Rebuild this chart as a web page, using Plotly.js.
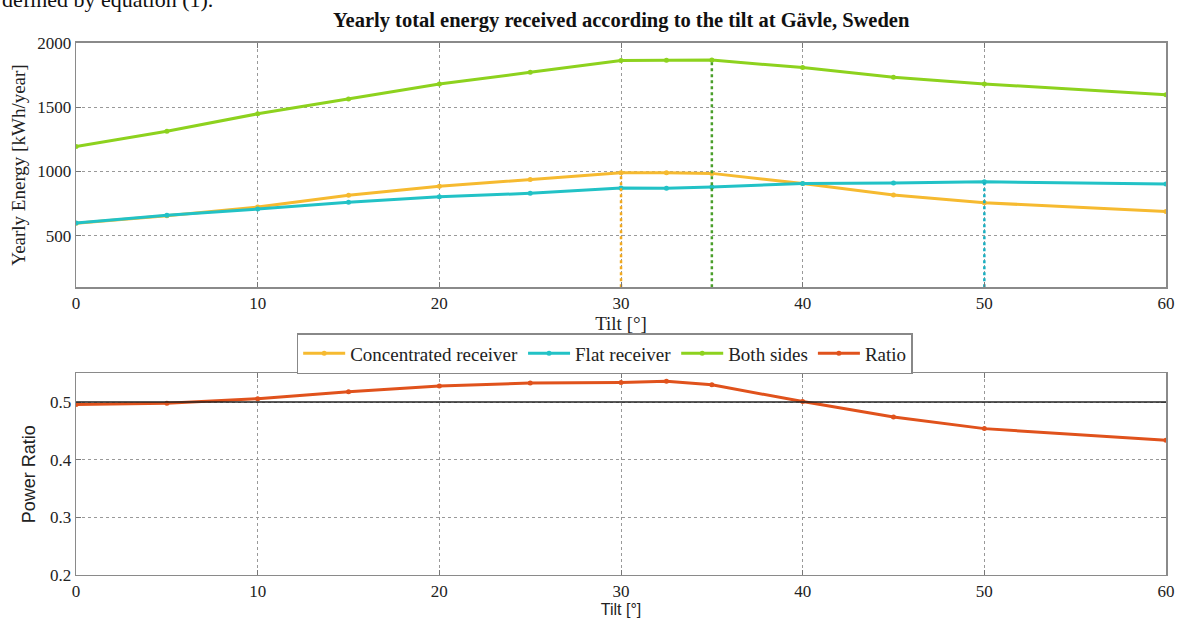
<!DOCTYPE html>
<html>
<head>
<meta charset="utf-8">
<script src="https://cdn.plot.ly/plotly-3.0.1.min.js"></script>
<style>html,body{margin:0;padding:0;background:#fff;}#chart{width:1181px;height:620px;}</style>
</head>
<body>
<div id="chart"></div>
<script>
// ---- data ----
const tilt = [0, 5, 10, 15, 20, 25, 30, 32.5, 35, 40, 45, 50, 60];
const concentrated = [597, 655, 724, 815, 885, 938, 990, 989, 985, 906, 817, 757, 688];
const flat = [600, 660, 708, 760, 803, 830, 872, 870, 880, 906, 910, 920, 902];
const bothSides = [1194, 1312, 1448, 1563, 1680, 1770, 1862, 1863, 1865, 1807, 1732, 1680, 1596];
const ratio = [0.496, 0.498, 0.506, 0.518, 0.528, 0.533, 0.534, 0.536, 0.530, 0.501, 0.474, 0.454, 0.434];
const seriesNames = ["Concentrated receiver", "Flat receiver", "Both sides", "Ratio"];
const titleText = "Yearly total energy received according to the tilt at Gävle, Sweden";
const topYTitle = "Yearly Energy [kWh/year]";
const bottomYTitle = "Power Ratio";
const xTitle = "Tilt [°]";
const pageText = "defined by equation (1).";
const energyTicks = [500, 1000, 1500, 2000];
const ratioTicks = [0.2, 0.3, 0.4, 0.5];
const tiltTicks = [0, 10, 20, 30, 40, 50, 60];
const ratioRef = 0.5;

// ---- styles ----
const colors = ["#F6BA30", "#22C2C6", "#8DD21E", "#E0521C"];
const dotColors = ["#F2A91E", "#19AFC0", "#4A9F2A"];
const serif = "Liberation Serif, Times New Roman, serif";
const sans = "Liberation Sans, Arial, sans-serif";
const yMinTop = 100;

function argmax(a){let k=0;for(let i=1;i<a.length;i++) if(a[i]>a[k]) k=i;return k;}

const energySeries = [concentrated, flat, bothSides];
const traces = [];
energySeries.forEach((s, i) => {
  traces.push({
    x: tilt, y: s, type: "scatter", mode: "lines+markers", name: seriesNames[i],
    line: {color: colors[i], width: 3}, marker: {color: colors[i], size: 5, symbol: "circle"},
    xaxis: "x", yaxis: "y", legendrank: i + 1
  });
});
traces.push({
  x: tilt, y: ratio, type: "scatter", mode: "lines+markers", name: seriesNames[3],
  line: {color: colors[3], width: 3}, marker: {color: colors[3], size: 5, symbol: "circle"},
  xaxis: "x2", yaxis: "y2", legendrank: 4
});
// vertical dotted lines at the maxima
energySeries.forEach((s, i) => {
  const k = argmax(s);
  traces.push({
    x: [tilt[k], tilt[k]], y: [yMinTop, s[k]], type: "scatter", mode: "lines",
    line: {color: dotColors[i], width: 2.5, dash: "dot"}, showlegend: false, hoverinfo: "skip",
    xaxis: "x", yaxis: "y"
  });
});

const axisCommon = {
  showline: true, mirror: "ticks", linecolor: "#8a8a8a", linewidth: 1.5,
  ticks: "inside", ticklen: 5, tickcolor: "#777",
  showgrid: true, gridcolor: "#999", griddash: "dot", gridwidth: 1,
  zeroline: false, tickfont: {family: serif, size: 17, color: "#222"}
};

const layout = {
  width: 1181, height: 620,
  margin: {l: 0, r: 0, t: 0, b: 0},
  paper_bgcolor: "#fff", plot_bgcolor: "#fff",
  showlegend: true,
  title: {text: "<b>" + titleText + "</b>", font: {family: serif, size: 20.5, color: "#111"},
          x: 0.526, xanchor: "center", y: 0.968, yanchor: "middle"},
  xaxis: Object.assign({}, axisCommon, {domain: [0.0644, 0.9873], range: [0, 60], tickvals: tiltTicks,
          anchor: "y", title: {text: xTitle, font: {family: serif, size: 19, color: "#222"}, standoff: 0}}),
  yaxis: Object.assign({}, axisCommon, {domain: [0.5366, 0.9311], range: [yMinTop, 2000], tickvals: energyTicks,
          anchor: "x", title: {text: topYTitle, font: {family: serif, size: 19, color: "#222"}, standoff: 6}}),
  xaxis2: Object.assign({}, axisCommon, {domain: [0.0644, 0.9873], range: [0, 60], tickvals: tiltTicks,
          anchor: "y2", title: {text: xTitle, font: {family: sans, size: 16, color: "#222"}, standoff: 0}}),
  yaxis2: Object.assign({}, axisCommon, {domain: [0.0726, 0.3979], range: [0.2, 0.55], tickvals: ratioTicks,
          anchor: "x2", title: {text: bottomYTitle, font: {family: sans, size: 18, color: "#222"}, standoff: 9}}),
  legend: {orientation: "h", x: 0.512, xanchor: "center", y: 1 - 333/620, yanchor: "top",
           bordercolor: "#888", borderwidth: 1.5, bgcolor: "#fff",
           font: {family: serif, size: 19, color: "#222"}, itemwidth: 42, tracegroupgap: 0},
  shapes: [{type: "line", xref: "x2 domain", x0: 0, x1: 1, yref: "y2", y0: ratioRef, y1: ratioRef,
            line: {color: "#222", width: 1.5}}],
  annotations: [{text: pageText, xref: "paper", yref: "paper", x: 0, xanchor: "left",
                 y: 1 - 14/620, yanchor: "bottom", showarrow: false,
                 font: {family: serif, size: 22, color: "#111"}}]
};

Plotly.newPlot("chart", traces, layout, {staticPlot: true, displayModeBar: false});
</script>
</body>
</html>
